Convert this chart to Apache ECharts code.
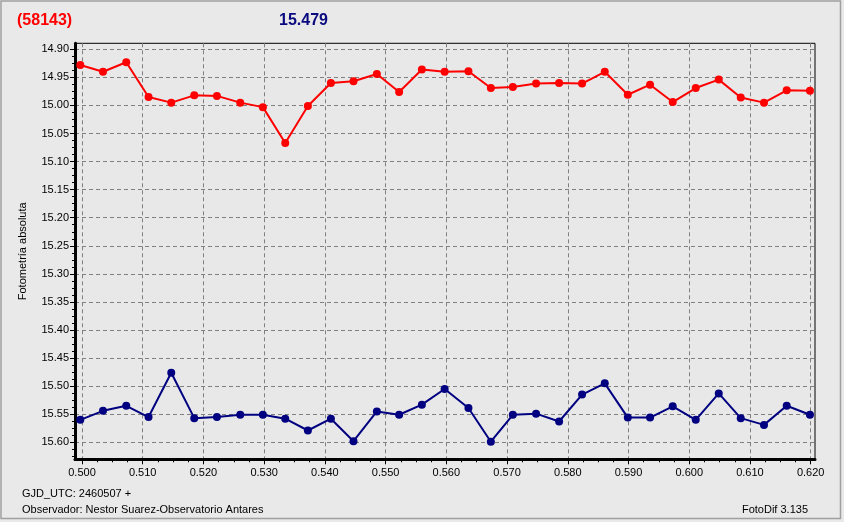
<!DOCTYPE html>
<html><head><meta charset="utf-8">
<script src="https://cdn.jsdelivr.net/npm/echarts@6/dist/echarts.min.js"></script>
<style>html,body{margin:0;padding:0;background:#e9e9e9}#c{width:844px;height:522px}</style>
</head><body><div id="c"></div>
<script>
// ---- data ----
const xTicks = [0.500,0.510,0.520,0.530,0.540,0.550,0.560,0.570,0.580,0.590,0.600,0.610,0.620];
const yTicks = [14.90,14.95,15.00,15.05,15.10,15.15,15.20,15.25,15.30,15.35,15.40,15.45,15.50,15.55,15.60];
const jd = [0.49972,0.50346,0.50729,0.51096,0.51470,0.51849,0.52222,0.52606,0.52979,0.53347,0.53720,
            0.54099,0.54471,0.54856,0.55223,0.55597,0.55972,0.56364,0.56733,0.57095,0.57478,0.57857,
            0.58235,0.58609,0.58988,0.59355,0.59728,0.60107,0.60486,0.60848,0.61231,0.61605,0.61988];
const varMag = [14.928,14.940,14.923,14.985,14.995,14.982,14.983,14.995,15.003,15.067,15.001,
                14.960,14.957,14.944,14.976,14.936,14.940,14.939,14.969,14.967,14.961,14.960,
                14.961,14.940,14.981,14.963,14.994,14.969,14.954,14.986,14.995,14.973,14.974];
const compMag = [15.560,15.544,15.535,15.555,15.476,15.557,15.555,15.551,15.551,15.558,15.579,
                 15.558,15.598,15.545,15.551,15.533,15.505,15.539,15.599,15.551,15.549,15.563,
                 15.515,15.495,15.556,15.556,15.536,15.560,15.513,15.557,15.569,15.535,15.551];
const starId = '(58143)';
const compValue = '15.479';
const yTitle = 'Fotometría absoluta';
const footLeft1 = 'GJD_UTC: 2460507 +';
const footLeft2 = 'Observador: Nestor Suarez-Observatorio Antares';
const footRight = 'FotoDif 3.135';

// minor tick values (4 subdivisions between major ticks)
function minors(t){const out=[];for(let i=0;i<t.length-1;i++){const s=(t[i+1]-t[i])/4;for(let k=1;k<4;k++)out.push(+(t[i]+k*s).toFixed(5));}
  const s=(t[1]-t[0])/4; out.push(+(t[t.length-1]+s).toFixed(5)); out.push(+(t[t.length-1]+2*s).toFixed(5)); out.push(+(t[0]-s).toFixed(5)); return out;}
const X_MIN=0.49885, X_MAX=0.62071, Y_MIN=14.8893, Y_MAX=15.6303;
const xMinor = minors(xTicks).filter(v=>v>X_MIN&&v<X_MAX);
const yMinor = minors(yTicks).filter(v=>v>Y_MIN&&v<Y_MAX);

const FONT = 'Liberation Sans, Arial, sans-serif';
const chart = echarts.init(document.getElementById('c'), null, {renderer:'canvas'});
const grid = {left:75, right:29, top:43.3, bottom:62.7, show:true, borderColor:'#000', borderWidth:1, backgroundColor:'#e8e8e8'};
chart.setOption({
  animation:false,
  backgroundColor:'#e9e9e9',
  grid: grid,
  xAxis:[{
    type:'value', min:X_MIN, max:X_MAX, position:'bottom',
    axisLine:{show:true,onZero:false,lineStyle:{color:'#000',width:3}},
    axisTick:{show:true,customValues:xTicks,length:5,lineStyle:{color:'#000',width:1}},
    axisLabel:{customValues:xTicks,formatter:v=>v.toFixed(3),margin:8,fontSize:11,color:'#000',fontFamily:FONT},
    splitLine:{show:true,lineStyle:{color:'#808080',type:[4,3],width:1}}
  },{
    type:'value', min:X_MIN, max:X_MAX, position:'bottom',
    axisLine:{show:false},
    axisTick:{show:true,customValues:xMinor,length:3,lineStyle:{color:'#000',width:1}},
    axisLabel:{show:false}, splitLine:{show:false}
  }],
  yAxis:[{
    type:'value', min:Y_MIN, max:Y_MAX, inverse:true, position:'left',
    name:yTitle, nameLocation:'middle', nameGap:47, nameRotate:90,
    nameTextStyle:{fontSize:11,color:'#000',fontFamily:FONT},
    axisLine:{show:true,onZero:false,lineStyle:{color:'#000',width:3}},
    axisTick:{show:true,customValues:yTicks,length:5,lineStyle:{color:'#000',width:1}},
    axisLabel:{customValues:yTicks,formatter:v=>v.toFixed(2),margin:6,fontSize:11,color:'#000',fontFamily:FONT},
    splitLine:{show:true,lineStyle:{color:'#808080',type:[4,3],width:1}}
  },{
    type:'value', min:Y_MIN, max:Y_MAX, inverse:true, position:'left',
    axisLine:{show:false},
    axisTick:{show:true,customValues:yMinor,length:3,lineStyle:{color:'#000',width:1}},
    axisLabel:{show:false}, splitLine:{show:false}
  }],
  series:[{
    type:'line', xAxisIndex:0, yAxisIndex:0,
    data: jd.map((x,i)=>[x,varMag[i]]),
    symbol:'circle', symbolSize:8, color:'#ff0000',
    lineStyle:{color:'#ff0000',width:2}, itemStyle:{color:'#ff0000'}, z:5
  },{
    type:'line', xAxisIndex:0, yAxisIndex:0,
    data: jd.map((x,i)=>[x,compMag[i]]),
    symbol:'circle', symbolSize:8, color:'#000080',
    lineStyle:{color:'#000080',width:2}, itemStyle:{color:'#000080'}, z:5
  }],
  graphic:[
    {type:'rect', shape:{x:1,y:1,width:839.5,height:517.5}, style:{fill:'none',stroke:'#a0a0a0',lineWidth:1.5}, silent:true},
    {type:'text', left:17, top:13, style:{text:starId, fill:'#ff0000', font:'bold 16px '+FONT}},
    {type:'text', left:279, top:13, style:{text:compValue, fill:'#0a0a80', font:'bold 16px '+FONT}},
    {type:'text', left:22, top:488, style:{text:footLeft1, fill:'#000', font:'11px '+FONT}},
    {type:'text', left:22, top:504, style:{text:footLeft2, fill:'#000', font:'11px '+FONT}},
    {type:'text', right:36, top:504, style:{text:footRight, fill:'#000', font:'11px '+FONT}}
  ]
});
</script></body></html>
